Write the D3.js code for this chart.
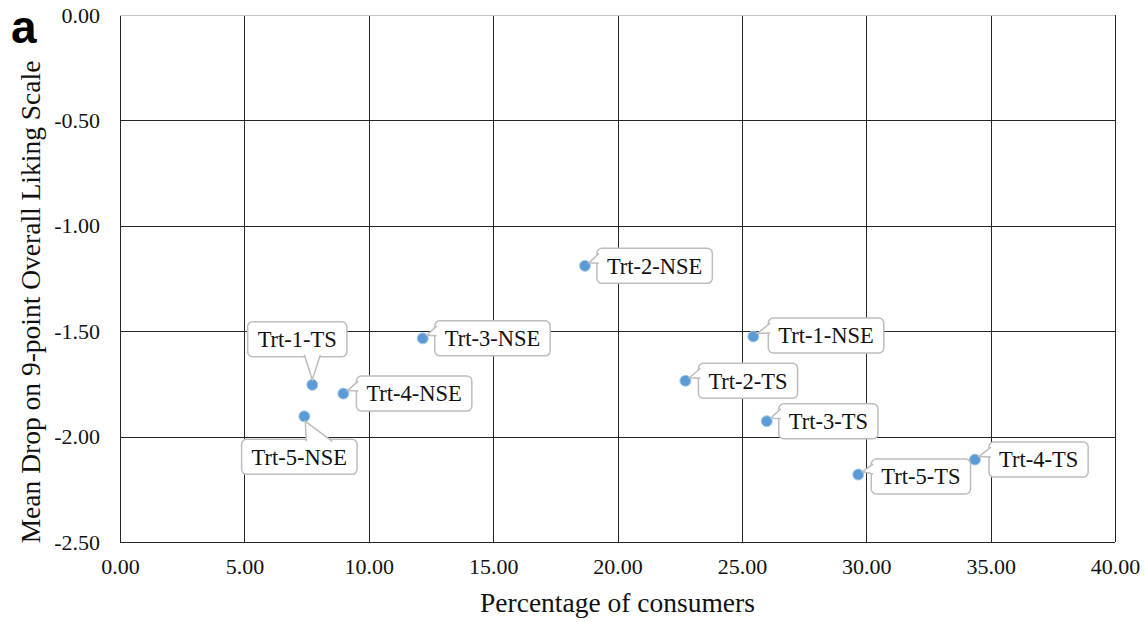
<!DOCTYPE html>
<html>
<head>
<meta charset="utf-8">
<style>
  body { margin: 0; background: #fff; }
</style>
</head>
<body>
<svg id="chart" width="1146" height="622" font-family="'Liberation Serif', 'Times New Roman', serif"></svg>
<script src="https://d3js.org/d3.v7.min.js"></script>
<script>
// data
const treatments = ["Trt-2-NSE", "Trt-3-NSE", "Trt-1-TS", "Trt-4-NSE", "Trt-5-NSE",
                    "Trt-1-NSE", "Trt-2-TS", "Trt-3-TS", "Trt-5-TS", "Trt-4-TS"];
const pctConsumers = [18.69, 12.17, 7.73, 8.98, 7.41, 25.46, 22.73, 26.00, 29.68, 34.37];
const meanDrop = [-1.19, -1.534, -1.754, -1.796, -1.904, -1.525, -1.735, -1.927, -2.18, -2.109];
const xTicks = [0, 5, 10, 15, 20, 25, 30, 35, 40];
const yTicks = [0, -0.5, -1, -1.5, -2, -2.5];

// where each callout sits relative to its point
const callout = {
  "Trt-2-NSE": { side: "right", gap: 12, dy: 0 },
  "Trt-3-NSE": { side: "right", gap: 12, dy: 0 },
  "Trt-1-TS":  { side: "above", dx: -15, gap: 28 },
  "Trt-4-NSE": { side: "right", gap: 13, dy: 0 },
  "Trt-5-NSE": { side: "below", dx: -5, gap: 23 },
  "Trt-1-NSE": { side: "right", gap: 15, dy: -1 },
  "Trt-2-TS":  { side: "right", gap: 13, dy: 0 },
  "Trt-3-TS":  { side: "right", gap: 12, dy: 0 },
  "Trt-5-TS":  { side: "right", gap: 13, dy: 2 },
  "Trt-4-TS":  { side: "right", gap: 14, dy: 0 }
};

const serif = "Liberation Serif";
const pl = 120, pr = 1115, pt = 15, pb = 542;
const svg = d3.select("#chart");
const fmt = d => d.toFixed(2);

const x = d3.scaleLinear().domain([0, 40]).range([pl, pr]);
const y = d3.scaleLinear().domain([-2.5, 0]).range([pb, pt]);

// grid
svg.append("g").selectAll("line")
  .data(xTicks)
  .enter().append("line")
  .attr("x1", d => Math.round(x(d)) + 0.5).attr("x2", d => Math.round(x(d)) + 0.5)
  .attr("y1", pt).attr("y2", pb)
  .attr("stroke", "#262626").attr("stroke-width", 1);

svg.append("g").selectAll("line")
  .data(yTicks)
  .enter().append("line")
  .attr("x1", pl).attr("x2", pr)
  .attr("y1", d => Math.round(y(d)) + 0.5).attr("y2", d => Math.round(y(d)) + 0.5)
  .attr("stroke", d => d === 0 ? "#c8c8c8" : "#262626").attr("stroke-width", 1);

// axes (labels only, lines come from the grid)
const xAxis = svg.append("g")
  .attr("transform", `translate(0,${pb})`)
  .call(d3.axisBottom(x).tickValues(xTicks).tickFormat(fmt).tickSize(0).tickPadding(16));
const yAxis = svg.append("g")
  .attr("transform", `translate(${pl},0)`)
  .call(d3.axisLeft(y).tickValues(yTicks).tickFormat(fmt).tickSize(0).tickPadding(20));
[xAxis, yAxis].forEach(g => {
  g.attr("font-family", serif).attr("font-size", 22);
  g.select(".domain").remove();
  g.selectAll("text").attr("fill", "#111");
});
xAxis.selectAll("text").attr("dy", "0.71em");

// axis titles
svg.append("text")
  .attr("x", (pl + pr) / 2).attr("y", 612)
  .attr("text-anchor", "middle")
  .attr("font-family", serif).attr("font-size", 27.5).attr("fill", "#111")
  .text("Percentage of consumers");

svg.append("text")
  .attr("transform", `translate(40,${302}) rotate(-90)`)
  .attr("text-anchor", "middle")
  .attr("font-family", serif).attr("font-size", 27.5).attr("fill", "#111")
  .text("Mean Drop on 9-point Overall Liking Scale");

svg.append("text")
  .attr("x", 11).attr("y", 43)
  .attr("font-family", "Liberation Sans")
  .attr("font-weight", "bold")
  .attr("font-size", 46)
  .text("a");

// points
const pts = treatments.map((t, i) => ({ name: t, px: x(pctConsumers[i]), py: y(meanDrop[i]) }));

svg.append("g").selectAll("circle")
  .data(pts)
  .enter().append("circle")
  .attr("cx", d => d.px).attr("cy", d => d.py).attr("r", 5.5)
  .attr("fill", "#5b9bd5")
  .attr("stroke", "#a9cbea").attr("stroke-width", 1);

// callouts
const boxH = 35, padX = 10;
const cg = svg.append("g");
pts.forEach(d => {
  const c = callout[d.name];
  const g = cg.append("g");
  const txt = g.append("text")
    .attr("font-family", serif).attr("font-size", 22.5).attr("fill", "#111")
    .text(d.name);
  const w = txt.node().getComputedTextLength() + 2 * padX;
  let bx, by;
  if (c.side === "right") {
    bx = d.px + c.gap; by = d.py + c.dy - boxH / 2;
  } else if (c.side === "above") {
    bx = d.px + c.dx - w / 2; by = d.py - c.gap - boxH;
  } else {
    bx = d.px + c.dx - w / 2; by = d.py + c.gap;
  }
  g.insert("rect", "text")
    .attr("x", bx).attr("y", by).attr("width", w).attr("height", boxH)
    .attr("rx", 5).attr("ry", 5)
    .attr("fill", "#fff").attr("stroke", "#bdbdbd").attr("stroke-width", 1.5);
  let tail;
  if (c.side === "right") {
    tail = [[bx + 2, by + 5], [d.px + 4, d.py - 3], [bx + 2, by + 15]];
  } else if (c.side === "above") {
    tail = [[d.px - 8, by + boxH - 2], [d.px, d.py - 5], [d.px + 8, by + boxH - 2]];
  } else {
    tail = [[d.px + 2, by + 2], [d.px + 1, d.py + 5], [d.px + 28, by + 2]];
  }
  g.insert("path", "text")
    .attr("d", d3.line()(tail))
    .attr("fill", "#fff").attr("stroke", "#bdbdbd").attr("stroke-width", 1.5);
  txt.attr("x", bx + w / 2).attr("y", by + boxH / 2)
    .attr("text-anchor", "middle").attr("dy", "0.35em");
});
</script>
</body>
</html>
